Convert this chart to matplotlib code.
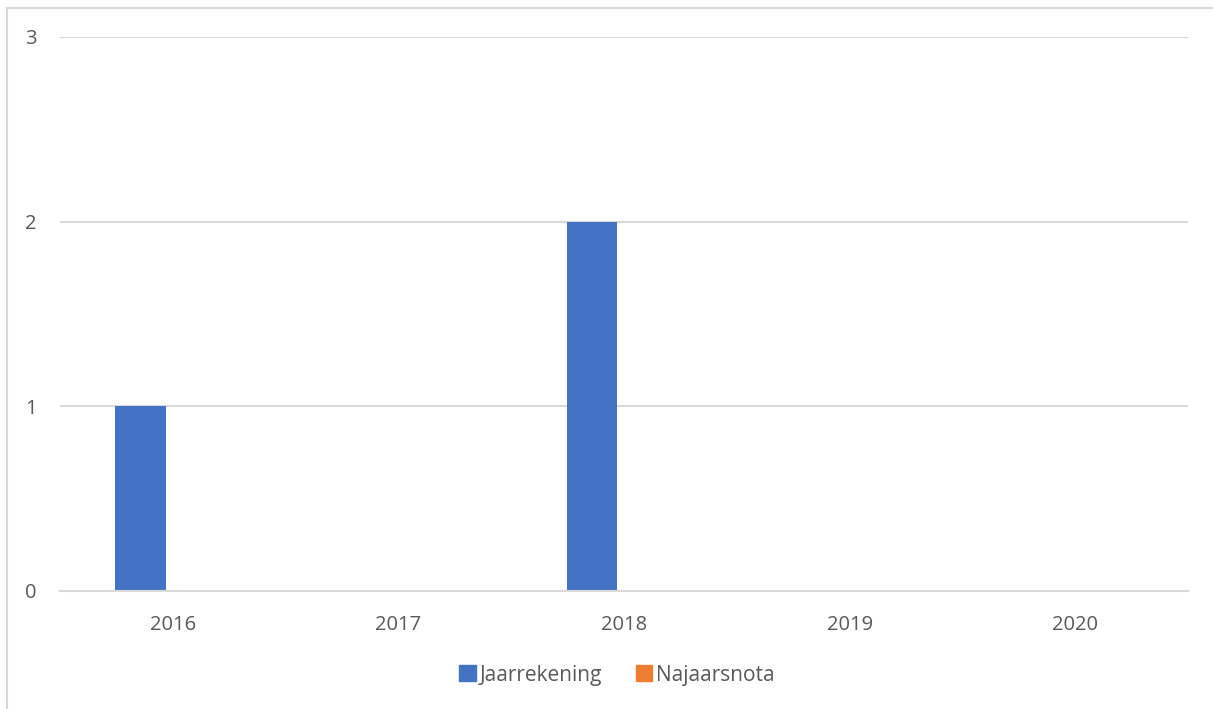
import matplotlib.pyplot as plt
from matplotlib.patches import Rectangle, Patch
import numpy as np

years = ['2016', '2017', '2018', '2019', '2020']
jaarrekening = [1, 0, 2, 0, 0]
najaarsnota = [0, 0, 0, 0, 0]

BLUE = '#4472C4'
ORANGE = '#ED7D31'
GRID = '#D9D9D9'
TEXT = '#595959'

plt.rcParams['font.family'] = ['Open Sans', 'DejaVu Sans']

fig = plt.figure(figsize=(12.13, 7.09), dpi=100)
# chart border (runs off the right and bottom edge like the original)
fig.patches.append(Rectangle((7 / 1213, -0.1), 1.2, 1 - 8 / 709 + 0.1,
                             transform=fig.transFigure, fill=False,
                             edgecolor=GRID, linewidth=1.5))

ax = fig.add_axes([60 / 1213, 118 / 709, 1128 / 1213, 554 / 709])

x = np.arange(len(years))
w = 0.2243
off = 0.1424
ax.bar(x - off, jaarrekening, w, color=BLUE, zorder=3)
ax.bar(x + off, najaarsnota, w, color=ORANGE, zorder=3)

ax.set_xlim(-0.5, len(years) - 0.5)
ax.set_ylim(0, 3)
ax.set_yticks([0, 1, 2, 3])
ax.set_xticks(x)
ax.set_xticklabels(years)
ax.grid(axis='y', color=GRID, linewidth=1.5, zorder=0)
ax.tick_params(length=0, labelsize=14.5, colors=TEXT)
ax.tick_params(axis='y', pad=17)
ax.tick_params(axis='x', pad=17)
for s in ['top', 'right', 'left']:
    ax.spines[s].set_visible(False)
ax.spines['bottom'].set_color(GRID)
ax.spines['bottom'].set_linewidth(1.5)
ax.spines['bottom'].set_zorder(4)

handles = [Patch(color=BLUE, label='Jaarrekening'),
           Patch(color=ORANGE, label='Najaarsnota')]
fig.legend(handles=handles, loc='center', bbox_to_anchor=(617 / 1213, 1 - 675 / 709),
           ncol=2, frameon=False, fontsize=15, labelcolor=TEXT,
           handlelength=0.8, handleheight=0.8, handletextpad=0.2, columnspacing=1.6)

fig.savefig('out.png', dpi=100)
